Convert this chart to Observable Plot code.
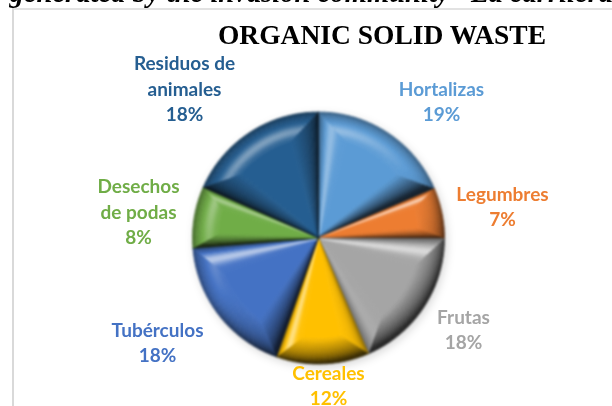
<!DOCTYPE html>
<html><head><meta charset="utf-8">
<script src="https://cdn.jsdelivr.net/npm/d3@7"></script>
<script src="https://cdn.jsdelivr.net/npm/@observablehq/plot@0.6"></script>
<style>
html,body{margin:0;padding:0;background:#fff}
svg{display:block}
.pie{filter:blur(.8px) drop-shadow(2px 3px 4px rgba(0,0,0,.16))}
.soft{filter:blur(.35px)}
</style></head><body>
<script>
// DATA (clockwise from 12 o'clock)
const categories = ["Hortalizas","Legumbres","Frutas","Cereales","Tubérculos","Desechos\nde podas","Residuos de\nanimales"];
const values = [18.6,6.5,18.4,11.9,18.3,7.9,18.4];
const percentLabels = ["19%","7%","18%","12%","18%","8%","18%"];
const colors = ["#5b9bd5","#ed7d31","#a5a5a5","#ffc000","#4472c4","#70ad47","#255e91"];
const headerText = "generated by the invasion community\u201D La carrilera";
const titleText = "ORGANIC SOLID WASTE";

// LAYOUT
const W = 612, H = 406, cx = 318, cy = 237.5, R = 126;
const labelX = [441,502,463,328,157,138,184];
const labelY = [100,205,328,384,341,210,87];

// Bevelled slices built from the values
const total = d3.sum(values);
const light = [-0.5,-0.866];
const pt = (r,a,o=[cx,cy]) => [o[0]+r*Math.sin(a), o[1]-r*Math.cos(a)];
const mix = (c,t,target) => {const p=d3.rgb(c),q=d3.rgb(target);return d3.rgb(p.r+(q.r-p.r)*t,p.g+(q.g-p.g)*t,p.b+(q.b-p.b)*t).formatHex();};
const shade = (c,s) => s>=0 ? mix(c,Math.min(s,.85),"#fff") : mix(c,Math.min(-s,.8),"#000");
const stripsN = 10, facets = [];
let acc = 0, id = 0;
values.forEach((v,i)=>{
  const a0 = acc/total*2*Math.PI; acc += v;
  const a1 = acc/total*2*Math.PI, span=a1-a0, mid=(a0+a1)/2;
  const d = Math.min(0.27, span*0.24);
  const apex = pt(Math.min(6,span*10),mid);
  const n = Math.max(3,Math.ceil(span/0.05));
  const outer=[[cx,cy]], inner=[apex];
  for(let k=0;k<=n;k++){
    const u=k/n;
    outer.push(pt(R,a0+span*u));
    inner.push(pt(R*0.8,a0+d+(span-2*d)*u));
  }
  outer.push([cx,cy]); inner.push(apex);
  // flat face
  facets.push(...inner.map(p=>({x:p[0],y:p[1],id,c:colors[i]}))); id++;
  for(let s=0;s<outer.length-1;s++){
    const isSide = s===0||s===outer.length-2;
    let nx,ny;
    if(s===0){nx=-Math.cos(a0);ny=-Math.sin(a0);}
    else if(s===outer.length-2){nx=Math.cos(a1);ny=Math.sin(a1);}
    else {const am=a0+span*(s-0.5)/n;nx=Math.sin(am);ny=-Math.cos(am);}
    const L = nx*light[0]+ny*light[1];
    for(let t=0;t<stripsN;t++){
      const t0=t/stripsN,t1=(t+1)/stripsN,tm=(t0+t1)/2;
      const lerp=(a,b,q)=>[a[0]+(b[0]-a[0])*q,a[1]+(b[1]-a[1])*q];
      const poly=[lerp(outer[s],inner[s],t0),lerp(outer[s+1],inner[s+1],t0),lerp(outer[s+1],inner[s+1],t1),lerp(outer[s],inner[s],t1)];
      const rim=-0.42*Math.pow(1-tm,4);
      let sv;
      if(L>0){
        const peak = isSide?0.5:0.66;
        const gain = isSide?0.72:0.42;
        sv = L*gain*Math.exp(-Math.pow((tm-peak)/.2,2)) + rim;
      } else {
        sv = L*(isSide?0.78:0.6)*Math.pow(1-tm,.85) + rim;
      }
      const fill=shade(colors[i],sv);
      poly.forEach(p=>facets.push({x:p[0],y:p[1],id,c:fill}));
      id++;
    }
  }
});

const labels = categories.map((c,i)=>({t:c+"\n"+percentLabels[i],x:labelX[i],y:labelY[i],c:colors[i]}));
const font = "Lato, 'Open Sans', sans-serif";
const chart = Plot.plot({
  width:W,height:H,margin:0,
  style:{background:"#fff",overflow:"hidden"},
  x:{domain:[0,W],range:[0,W],axis:null},
  y:{domain:[0,H],range:[0,H],axis:null},
  color:{type:"identity"},
  marks:[
    Plot.ruleY([8.5],{x1:12,x2:W,stroke:"#d9d9d9",strokeWidth:1.5}),
    Plot.ruleX([12.5],{y1:8,y2:H,stroke:"#d9d9d9",strokeWidth:2}),
    Plot.line(facets,{x:"x",y:"y",z:"id",fill:"c",stroke:"c",strokeWidth:.7,curve:"linear",className:"pie"}),
    Plot.text([headerText],{x:()=>9,y:()=>1,text:d=>d,textAnchor:"start",lineAnchor:"bottom",fontFamily:"'Liberation Serif',serif",fontStyle:"italic",fontWeight:700,fontSize:28.6,fill:"#000",className:"soft"}),
    Plot.text([titleText],{x:()=>381.5,y:()=>43,text:d=>d,lineAnchor:"bottom",fontFamily:"'Liberation Serif',serif",fontWeight:700,fontSize:27.5,fill:"#000",className:"soft"}),
    Plot.text(labels,{x:"x",y:"y",text:"t",fill:"c",fontFamily:font,fontWeight:700,fontSize:19,lineHeight:1.34,lineAnchor:"middle",className:"soft"})
  ]
});
document.body.appendChild(chart);
</script>
</body></html>
